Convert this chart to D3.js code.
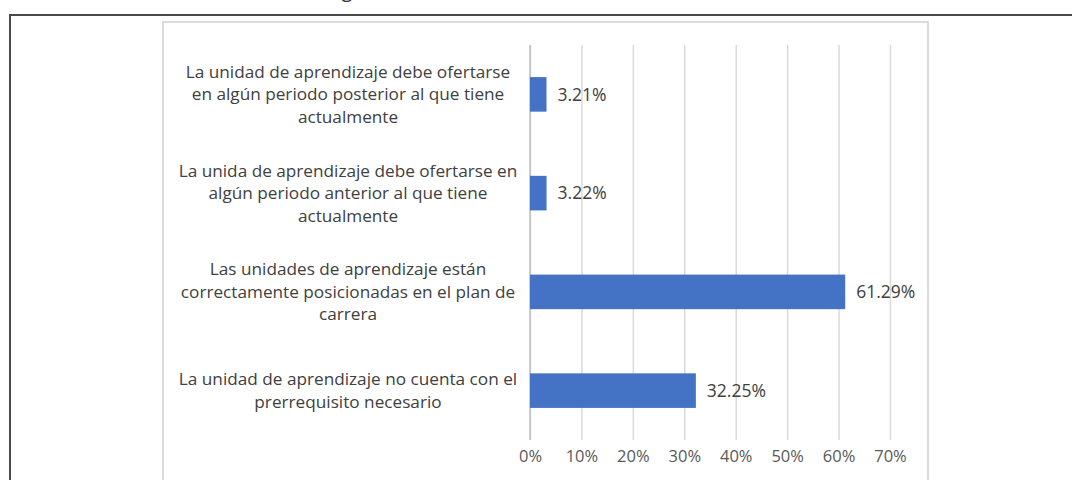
<!DOCTYPE html>
<html>
<head>
<meta charset="utf-8">
<script src="https://cdn.jsdelivr.net/npm/d3@7"></script>
<style>
  body { margin: 0; background: #fff; }
  text { font-family: "Open Sans", "Noto Sans", sans-serif; }
</style>
</head>
<body>
<script>
// categories, top to bottom, already split into the lines shown
var categories = [
    ["La unidad de aprendizaje debe ofertarse", "en algún periodo posterior al que tiene", "actualmente"],
    ["La unida de aprendizaje debe ofertarse en", "algún periodo anterior al que tiene", "actualmente"],
    ["Las unidades de aprendizaje están", "correctamente posicionadas en el plan de", "carrera"],
    ["La unidad de aprendizaje no cuenta con el", "prerrequisito necesario"]
]
var values = [3.21, 3.22, 61.29, 32.25]
var tickValues = [0, 10, 20, 30, 40, 50, 60, 70]

var width = 1072
var height = 480

var plot = { left: 530, right: 890, top: 45, bottom: 440 }

var svg = d3.select("body")
    .append("svg")
    .attr("width", width)
    .attr("height", height)

// cut-off caption above the frame
svg.append("text")
    .attr("x", 347)
    .attr("y", -3)
    .attr("text-anchor", "middle")
    .attr("font-size", 20)
    .attr("fill", "#333")
    .text("g")

// outer frame (only top and left edges visible)
svg.append("rect")
    .attr("x", 10)
    .attr("y", 15)
    .attr("width", 1100)
    .attr("height", 500)
    .attr("fill", "none")
    .attr("stroke", "#4a4a4a")
    .attr("stroke-width", 2)

// chart area box
svg.append("rect")
    .attr("x", 163)
    .attr("y", 22)
    .attr("width", 765)
    .attr("height", 500)
    .attr("fill", "none")
    .attr("stroke", "#cfcfcf")
    .attr("stroke-width", 1.5)

var x = d3.scaleLinear()
    .domain([0, 70])
    .range([plot.left, plot.right])

var y = d3.scaleBand()
    .domain(d3.range(categories.length))
    .range([plot.top, plot.bottom])
    .paddingInner(0.65)
    .paddingOuter(0.325)

// gridlines
var grid = d3.axisBottom(x)
    .tickValues(tickValues)
    .tickSize(plot.bottom - plot.top)
    .tickFormat("")

svg.append("g")
    .attr("transform", "translate(0," + plot.top + ")")
    .call(grid)
    .call(g => g.select(".domain").remove())
    .call(g => g.selectAll("line").attr("stroke", "#d9d9d9").attr("stroke-width", 1.5))

// tick labels
var ejeX = d3.axisBottom(x)
    .tickValues(tickValues)
    .tickSize(0)
    .tickPadding(0)
    .tickFormat(d => d + "%")

svg.append("g")
    .attr("transform", "translate(0," + (plot.bottom + 10) + ")")
    .call(ejeX)
    .call(g => g.select(".domain").remove())
    .call(g => g.selectAll("text")
        .attr("font-size", 16.5)
        .attr("font-family", "'Open Sans', sans-serif")
        .attr("fill", "#595959"))

// category axis line
svg.append("line")
    .attr("x1", x(0))
    .attr("x2", x(0))
    .attr("y1", plot.top)
    .attr("y2", plot.bottom)
    .attr("stroke", "#bfbfbf")
    .attr("stroke-width", 1.5)

// bars
svg.selectAll(".bar")
    .data(values)
    .enter()
    .append("rect")
    .attr("class", "bar")
    .attr("x", x(0))
    .attr("y", (d, i) => y(i))
    .attr("width", d => x(d) - x(0))
    .attr("height", y.bandwidth())
    .attr("fill", "#4472c4")

// value labels
svg.selectAll(".value")
    .data(values)
    .enter()
    .append("text")
    .attr("class", "value")
    .attr("x", d => x(d) + 11)
    .attr("y", (d, i) => y(i) + y.bandwidth() / 2)
    .attr("dy", "0.35em")
    .attr("font-size", 17.5)
    .attr("fill", "#404040")
    .text(d => d.toFixed(2) + "%")

// category labels
var lineHeight = 22.5
var labels = svg.selectAll(".cat")
    .data(categories)
    .enter()
    .append("text")
    .attr("class", "cat")
    .attr("text-anchor", "middle")
    .attr("font-size", 17.2)
    .attr("fill", "#404040")

labels.each(function (lines, i) {
    var cy = y(i) + y.bandwidth() / 2
    var startY = cy - (lines.length - 1) * lineHeight / 2
    d3.select(this).selectAll("tspan")
        .data(lines)
        .enter()
        .append("tspan")
        .attr("x", 348)
        .attr("y", (d, j) => startY + j * lineHeight)
        .attr("dy", "0.35em")
        .text(d => d)
})
</script>
</body>
</html>
